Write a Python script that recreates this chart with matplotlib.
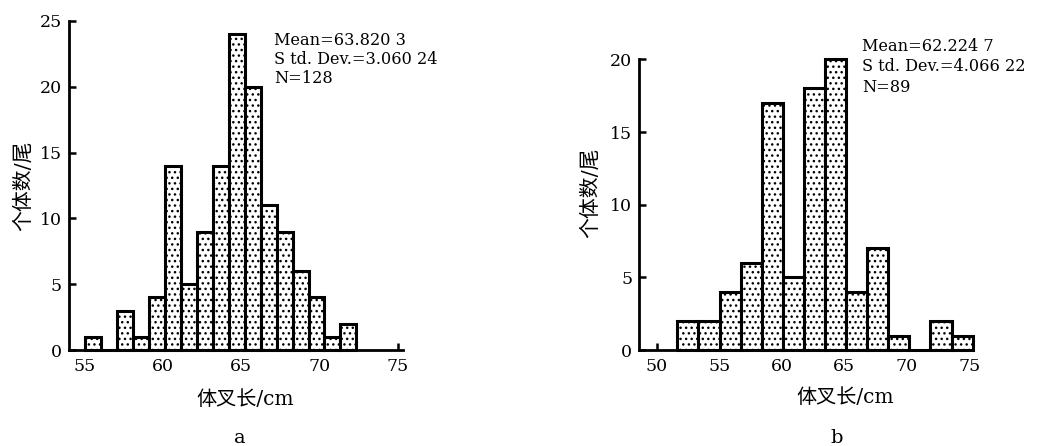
import numpy as np
import matplotlib
matplotlib.use("Agg")
import matplotlib.pyplot as plt

# histogram a
counts_a = [1, 0, 3, 1, 4, 14, 5, 9, 14, 24, 20, 11, 9, 6, 4, 1, 2]
bin_start_a = 55.05
bin_width_a = 1.017
stats_a = "Mean=63.820 3\nS td. Dev.=3.060 24\nN=128"
xticks_a = [55, 60, 65, 70, 75]
yticks_a = [0, 5, 10, 15, 20, 25]

# histogram b
counts_b = [2, 2, 4, 6, 17, 5, 18, 20, 4, 7, 1, 0, 2, 1]
bin_start_b = 51.65
bin_width_b = 1.687
stats_b = "Mean=62.224 7\nS td. Dev.=4.066 22\nN=89"
xticks_b = [50, 55, 60, 65, 70, 75]
yticks_b = [0, 5, 10, 15, 20]

xlabel = "体叉长/cm"
ylabel = "个体数/尾"

plt.rcParams["font.family"] = ["DejaVu Serif", "Noto Sans CJK SC"]
plt.rcParams["hatch.linewidth"] = 1.0

fig = plt.figure(figsize=(10.6, 4.46), dpi=100)
ax_a = fig.add_axes([0.065, 0.215, 0.315, 0.738])
ax_b = fig.add_axes([0.603, 0.215, 0.315, 0.652])


def draw_hist(ax, counts, start, width, xlim, ylim, xticks, yticks):
    edges = start + width * np.arange(len(counts))
    ax.bar(edges, counts, width=width, align="edge", color="white",
           edgecolor="black", linewidth=2.2, hatch="...", clip_on=False, zorder=2)
    ax.set_xlim(*xlim)
    ax.set_ylim(*ylim)
    ax.set_xticks(xticks)
    ax.set_yticks(yticks)
    for s in ("top", "right"):
        ax.spines[s].set_visible(False)
    for s in ("left", "bottom"):
        ax.spines[s].set_linewidth(2.0)
        ax.spines[s].set_zorder(3)
    ax.tick_params(direction="in", length=5, width=1.8, labelsize=12.5)
    ax.tick_params(axis="x", pad=6)
    ax.tick_params(axis="y", pad=5)


draw_hist(ax_a, counts_a, bin_start_a, bin_width_a, (54, 75.3), (0, 25), xticks_a, yticks_a)
draw_hist(ax_b, counts_b, bin_start_b, bin_width_b, (48.6, 75.3), (0, 20), xticks_b, yticks_b)

ax_a.set_xlabel(xlabel, fontsize=14.5)
ax_a.xaxis.set_label_coords(0.527, -0.12)
ax_a.set_ylabel(ylabel, fontsize=15)
ax_a.yaxis.set_label_coords(-0.108, 0.5)

ax_b.set_xlabel(xlabel, fontsize=14.5)
ax_b.xaxis.set_label_coords(0.617, -0.13)
ax_b.set_ylabel(ylabel, fontsize=15)
ax_b.yaxis.set_label_coords(-0.117, 0.54)

ax_a.text(0.614, 0.965, stats_a, transform=ax_a.transAxes, fontsize=11.6,
          va="top", ha="left", linespacing=1.12)
ax_b.text(0.668, 1.075, stats_b, transform=ax_b.transAxes, fontsize=11.6,
          va="top", ha="left", linespacing=1.27, clip_on=False)

fig.text(240 / 1060, 1 - 438 / 446, "a", ha="center", va="center", fontsize=14)
fig.text(837 / 1060, 1 - 438 / 446, "b", ha="center", va="center", fontsize=14)

fig.savefig("out.png", dpi=100)
